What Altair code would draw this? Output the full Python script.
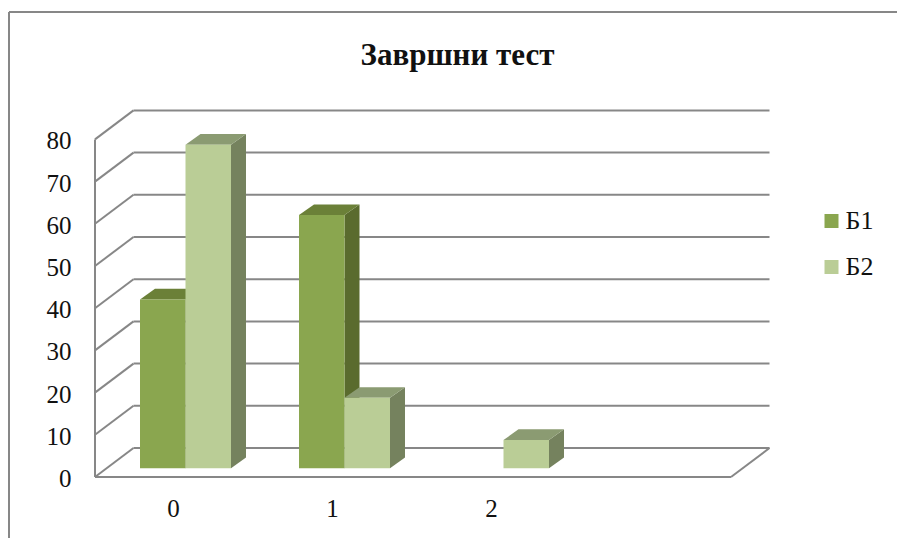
import altair as alt
import pandas as pd

# Test results per grade and group
categories = [0, 1, 2]
series_b1 = [40, 60, None]
series_b2 = [76.7, 16.7, 6.7]
series_names = ["Б1", "Б2"]
y_ticks = [0, 10, 20, 30, 40, 50, 60, 70, 80]

FRONT = ["#8AA64F", "#BACD96"]
SIDE = ["#5A6B2E", "#75825E"]
TOP = ["#6B8038", "#8B9B72"]
LINE = "#878787"
FONT = "Liberation Serif"

# Oblique projection, expressed in axis units
X_PX, Y_PX = 159.0, 4.22
WALL_DX, WALL_DY = 38.5 / X_PX, 29 / Y_PX
BAR_DX, BAR_DY = 15 / X_PX, 10.7 / Y_PX
BAR_X0, BAR_W = 45 / X_PX, 45.5 / X_PX
BAR_BASE = 8.7 / Y_PX
FLOOR_W = 4.0

x_scale = alt.Scale(domain=[-95 / X_PX, 802 / X_PX], nice=False, zero=False)
y_scale = alt.Scale(domain=[-61 / Y_PX, 477 / Y_PX], nice=False, zero=False)

# Wall, floor and outer frame lines
segments = []
for t in y_ticks:
    segments.append((0, t, WALL_DX, t + WALL_DY))
    segments.append((WALL_DX, t + WALL_DY, FLOOR_W + WALL_DX, t + WALL_DY))
segments.append((0, 0, 0, y_ticks[-1]))
segments.append((0, 0, FLOOR_W, 0))
segments.append((FLOOR_W, 0, FLOOR_W + WALL_DX, WALL_DY))
frame_left, frame_top = -86 / X_PX, 465 / Y_PX
frame_right, frame_bottom = 802 / X_PX, -61 / Y_PX
segments.append((frame_left, frame_top, frame_right, frame_top))
segments.append((frame_left, frame_top, frame_left, frame_bottom))
lines_df = pd.DataFrame(segments, columns=["x", "y", "x2", "y2"])

x_axis = alt.Axis(
    values=[c + 0.5 for c in categories], labelExpr="format(datum.value - 0.5, 'd')",
    title=None, grid=False, ticks=False, domain=False, offset=-61, labelPadding=19,
    labelFont=FONT, labelFontSize=25, labelColor="#111111", labelAngle=0, labelOffset=-1.5,
)
y_axis = alt.Axis(
    values=y_ticks, title=None, grid=False, ticks=False, domain=False, offset=-95,
    labelPadding=24, labelFont=FONT, labelFontSize=25, labelColor="#111111", labelOffset=1.5,
)


def enc_x(field):
    return alt.X(field, type="quantitative", scale=x_scale, axis=x_axis)


def enc_y(field):
    return alt.Y(field, type="quantitative", scale=y_scale, axis=y_axis)


layers = [
    alt.Chart(lines_df).mark_rule(color=LINE, strokeWidth=2).encode(
        x=enc_x("x"), y=enc_y("y"), x2="x2:Q", y2="y2:Q"
    )
]

# Each bar: side and top faces first, then the front face on top
for s, (name, values) in enumerate(zip(series_names, [series_b1, series_b2])):
    front, side, top = [], [], []
    for cat, v in zip(categories, values):
        if v is None:
            continue
        left = cat + BAR_X0 + s * BAR_W
        right = left + BAR_W
        y0, y1 = BAR_BASE, BAR_BASE + v
        front.append(dict(series=name, x=left, x2=right, y=y0, y2=y1))
        side.append(dict(bar=cat, x=right, y=y0, y2=y1))
        side.append(dict(bar=cat, x=right + BAR_DX, y=y0 + BAR_DY, y2=y1 + BAR_DY))
        top.append(dict(bar=cat, y=y1, x=left, x2=right))
        top.append(dict(bar=cat, y=y1 + BAR_DY, x=left + BAR_DX, x2=right + BAR_DX))
    layers.append(
        alt.Chart(pd.DataFrame(side)).mark_area(color=SIDE[s], opacity=1).encode(
            x=enc_x("x"), y=enc_y("y"), y2="y2:Q", detail="bar:N"
        )
    )
    layers.append(
        alt.Chart(pd.DataFrame(top)).mark_area(color=TOP[s], opacity=1, orient="horizontal").encode(
            y=enc_y("y"), x=enc_x("x"), x2="x2:Q", detail="bar:N"
        )
    )
    layers.append(
        alt.Chart(pd.DataFrame(front)).mark_rect().encode(
            x=enc_x("x"), x2="x2:Q", y=enc_y("y"), y2="y2:Q",
            color=alt.Color(
                "series:N",
                scale=alt.Scale(domain=series_names, range=FRONT),
                legend=alt.Legend(
                    title=None, orient="none", legendX=818.5, legendY=208,
                    symbolType="square", symbolSize=196, symbolStrokeWidth=0,
                    labelFont=FONT, labelFontSize=26, labelColor="#111111",
                    labelLimit=80, labelOffset=1, rowPadding=20,
                ),
            ),
        )
    )

chart = alt.layer(*layers).properties(
    width=897,
    height=538,
    padding=0,
    autosize=alt.AutoSizeParams(type="none"),
    background="white",
    title=alt.TitleParams(
        "Завршни тест", font=FONT, fontSize=31, fontWeight="bold", color="#111111",
        anchor="middle", dx=9, dy=76,
    ),
).configure_view(stroke=None)

chart.save("out.html", embed_options={"renderer": "svg", "actions": False})
